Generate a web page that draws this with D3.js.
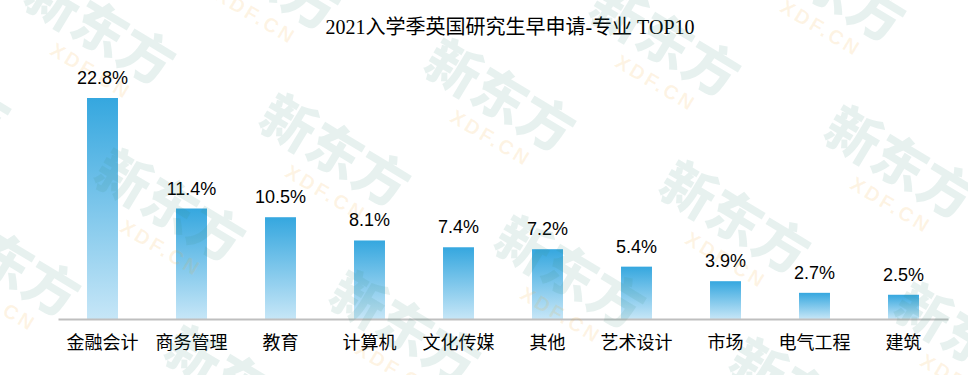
<!DOCTYPE html>
<html lang="zh">
<head>
    <meta charset="UTF-8">
    <title>2021入学季英国研究生早申请-专业 TOP10</title>
    <script src="https://d3js.org/d3.v7.min.js"></script>
    <style>
        body { margin: 0; background: #fff; }
        svg { display: block; }
    </style>
</head>
<body>
    <script>
    var w = 968;
    var h = 375;

    var title = "2021入学季英国研究生早申请-专业 TOP10";
    var majors = ["金融会计", "商务管理", "教育", "计算机", "文化传媒", "其他", "艺术设计", "市场", "电气工程", "建筑"];
    var shares = [22.8, 11.4, 10.5, 8.1, 7.4, 7.2, 5.4, 3.9, 2.7, 2.5];

    var svg = d3.select("body")
        .append("svg")
        .attr("width", w)
        .attr("height", h);

    svg.append("rect")
        .attr("width", w)
        .attr("height", h)
        .attr("fill", "#fff");

    // gradient used by every bar, darker at the top
    var grad = svg.append("defs")
        .append("linearGradient")
        .attr("id", "barGrad")
        .attr("x1", 0).attr("y1", 0)
        .attr("x2", 0).attr("y2", 1);
    grad.append("stop").attr("offset", "0%").attr("stop-color", "#35a7df");
    grad.append("stop").attr("offset", "100%").attr("stop-color", "#c6e6f7");

    var x = d3.scaleBand()
        .domain(majors)
        .range([58, 948])
        .paddingInner(0.652)
        .paddingOuter(0.326);

    var y = d3.scaleLinear()
        .domain([0, 22.8])
        .range([319, 98]);

    svg.append("text")
        .attr("x", 510)
        .attr("y", 34)
        .attr("text-anchor", "middle")
        .style("font-family", "'Liberation Serif', 'Noto Sans CJK SC', serif")
        .style("font-size", "20px")
        .attr("fill", "#000")
        .text(title);

    svg.selectAll("rect.bar")
        .data(shares)
        .enter()
        .append("rect")
        .attr("class", "bar")
        .attr("x", function(d, i) { return x(majors[i]); })
        .attr("y", function(d) { return y(d); })
        .attr("width", x.bandwidth())
        .attr("height", function(d) { return y(0) - y(d); })
        .attr("fill", "url(#barGrad)");

    svg.selectAll("text.val")
        .data(shares)
        .enter()
        .append("text")
        .attr("class", "val")
        .attr("x", function(d, i) { return x(majors[i]) + x.bandwidth() / 2; })
        .attr("y", function(d) { return y(d) - 14; })
        .attr("text-anchor", "middle")
        .style("font-family", "'Liberation Sans', Arial, sans-serif")
        .style("font-size", "18px")
        .attr("fill", "#000")
        .text(function(d) { return d.toFixed(1) + "%"; });

    // x axis: just the baseline and labels
    var xAxis = svg.append("g")
        .attr("transform", "translate(0," + y(0) + ")")
        .call(d3.axisBottom(x).tickSize(0).tickPadding(17));
    xAxis.select(".domain")
        .attr("stroke", "#bfbfbf")
        .attr("stroke-width", 2);
    xAxis.selectAll("text")
        .style("font-family", "'Noto Sans CJK SC', sans-serif")
        .style("font-size", "18px")
        .attr("fill", "#000");

    // watermark tiles on top of everything
    var wm = svg.append("g").attr("pointer-events", "none");
    var u = [165, -55], v = [235, 122], origin = [277, 90];
    for (var i = -3; i <= 4; i++) {
        for (var j = -2; j <= 2; j++) {
            var px = origin[0] + i * u[0] + j * v[0];
            var py = origin[1] + i * u[1] + j * v[1];
            if (px < -200 || px > w + 20 || py < -120 || py > h + 40) continue;
            var g = wm.append("g")
                .attr("transform", "translate(" + px + "," + py + ") rotate(31)");
            g.append("text")
                .attr("x", 0)
                .attr("y", 42)
                .style("font-family", "'Noto Sans CJK SC', sans-serif")
                .style("font-size", "54px")
                .style("font-weight", "900")
                .attr("fill", "#3c8c7c")
                .attr("fill-opacity", 0.12)
                .text("新东方");
            g.append("text")
                .attr("x", 50)
                .attr("y", 70)
                .style("font-family", "'Liberation Sans', Arial, sans-serif")
                .style("font-size", "20px")
                .style("font-weight", "bold")
                .style("letter-spacing", "3px")
                .attr("fill", "#f5a623")
                .attr("fill-opacity", 0.12)
                .text("XDF.CN");
        }
    }
    </script>
</body>
</html>
